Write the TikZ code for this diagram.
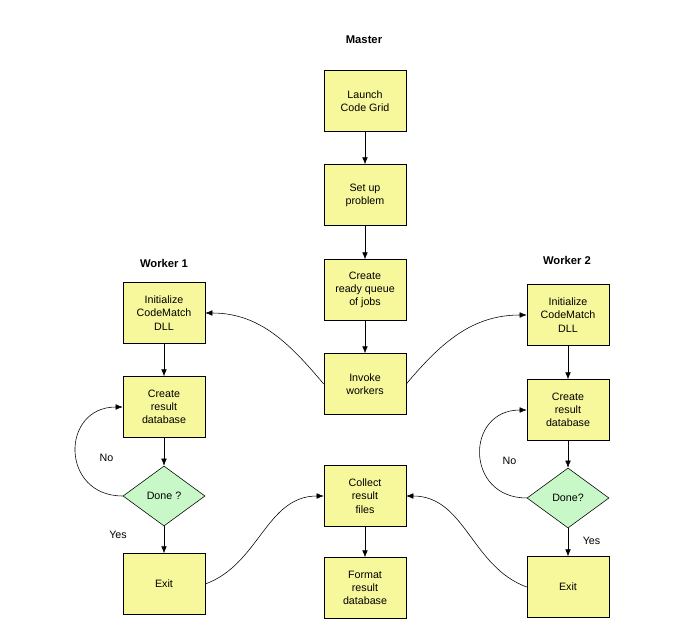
\documentclass[tikz,border=0pt]{standalone}
\usepackage{fontspec}
\setmainfont{Liberation Sans}
\usetikzlibrary{shapes.geometric,arrows.meta}
\definecolor{boxyellow}{RGB}{247,247,155}
\definecolor{diagreen}{RGB}{200,247,200}
\begin{document}
\begin{tikzpicture}[
    x=0.025cm, y=-0.025cm,
    every node/.style={font=\fontsize{7.6}{9.4}\selectfont, align=center},
    stepbox/.style={draw, fill=boxyellow, minimum width=2.05cm,
                    minimum height=1.52cm, inner sep=1pt},
    decision/.style={draw, diamond, fill=diagreen, minimum width=2.05cm,
                     minimum height=1.5cm, inner sep=0pt},
    heading/.style={font=\fontsize{8}{9.4}\selectfont\bfseries},
    flow/.style={-{Latex[length=5pt,width=4pt]}},
]
\useasboundingbox (0,0) rectangle (691,635);

% master
\node[heading] (mastertitle) at (364,40) {Master};
\node[stepbox] (launch)  at (365,101) {Launch\\Code Grid};
\node[stepbox] (setup)   at (365,195) {Set up\\problem};
\node[stepbox] (queue)   at (365,290) {Create\\ready queue\\of jobs};
\node[stepbox] (invoke)  at (365,384) {Invoke\\workers};
\node[stepbox] (collect) at (365,496) {Collect\\result\\files};
\node[stepbox] (format)  at (365,588) {Format\\result\\database};

% worker 1
\node[heading] (w1title) at (164,263) {Worker 1};
\node[stepbox] (init1)   at (164,313) {Initialize\\CodeMatch\\DLL};
\node[stepbox] (create1) at (164,407) {Create\\result\\database};
\node[decision] (done1)  at (164,496) {Done ?};
\node[stepbox] (exit1)   at (164,584) {Exit};

% worker 2
\node[heading] (w2title) at (567,260) {Worker 2};
\node[stepbox] (init2)   at (568,315) {Initialize\\CodeMatch\\DLL};
\node[stepbox] (create2) at (568,410) {Create\\result\\database};
\node[decision] (done2)  at (568,498) {Done?};
\node[stepbox] (exit2)   at (568,587) {Exit};

% straight arrows
\draw[flow] (launch) -- (setup);
\draw[flow] (setup) -- (queue);
\draw[flow] (queue) -- (invoke);
\draw[flow] (collect) -- (format);
\draw[flow] (init1) -- (create1);
\draw[flow] (create1) -- (done1);
\draw[flow] (done1) -- node[pos=0.3, left=23pt] {Yes} (exit1);
\draw[flow] (init2) -- (create2);
\draw[flow] (create2) -- (done2);
\draw[flow] (done2) -- node[pos=0.45, right=7pt] {Yes} (exit2);

% loops back
\draw[flow] (done1.west) to[out=180, in=180, looseness=1.8]
    node[pos=0.45, right=13pt] {No} (create1.west);
\draw[flow] (done2.west) to[out=180, in=180, looseness=1.8]
    node[pos=0.45, right=12pt] {No} (create2.west);

% master to workers and back
\draw[flow] (invoke.west) to[out=130, in=0] (init1.east);
\draw[flow] (invoke.east) to[out=50, in=180] (init2.west);
\draw[flow] (exit1.east) to[out=20, in=180] (collect.west);
\draw[flow] (exit2.west) to[out=160, in=0] (collect.east);
\end{tikzpicture}
\end{document}
